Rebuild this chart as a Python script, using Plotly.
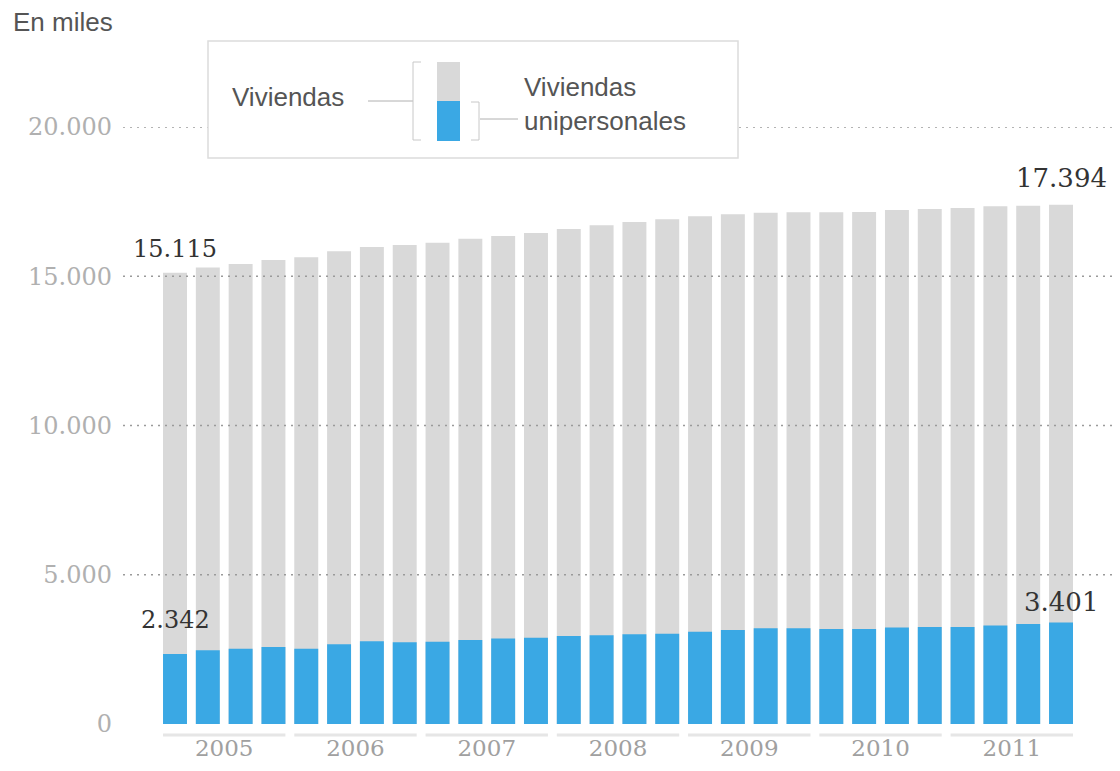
import plotly.graph_objects as go

# ---- data (thousands) ----
years = ["2005", "2006", "2007", "2008", "2009", "2010", "2011"]
quarters_per_year = 4
viviendas = [15115, 15290, 15410, 15545, 15635, 15835, 15980, 16047,
             16125, 16260, 16350, 16450, 16580, 16705, 16817, 16906,
             17007, 17074, 17130, 17140, 17140, 17150, 17218, 17252,
             17285, 17342, 17365, 17394]
unipersonales = [2342, 2467, 2521, 2578, 2521, 2668, 2769, 2735,
                 2755, 2812, 2868, 2890, 2946, 2975, 3003, 3023,
                 3090, 3147, 3204, 3204, 3180, 3180, 3237, 3247,
                 3247, 3304, 3348, 3401]
ytick_vals = [0, 5000, 10000, 15000, 20000]
ytick_text = ["0", "5.000", "10.000", "15.000", "20.000"]

GRAY = "#d9d9d9"
BLUE = "#3aa8e4"
OFF = 8  # page body margin
W, H = 1120, 771
# plot area in screen pixels: x 123..1115, y 127..724
SX0, SX1, SY0, SY1 = 123, 1115, 127, 724
L, R = SX0 - OFF, W - (SX1 - OFF)
T, B = SY0 - OFF, H - (SY1 - OFF)
PW, PH = SX1 - SX0, SY1 - SY0

def px(x):
    return (x - SX0) / PW

def py(y):
    return (SY1 - y) / PH

def fmt(v):
    return f"{v:,}".replace(",", ".")

idx = list(range(len(viviendas)))

fig = go.Figure()
fig.add_trace(go.Bar(x=idx, y=viviendas, marker=dict(color=GRAY, line=dict(width=0)),
                     name="Viviendas", hoverinfo="y"))
fig.add_trace(go.Bar(x=idx, y=unipersonales, marker=dict(color=BLUE, line=dict(width=0)),
                     name="Viviendas unipersonales", hoverinfo="y"))

shapes = []
# dotted gridlines above bars
for v in ytick_vals[1:]:
    shapes.append(dict(type="line", xref="paper", yref="y", x0=0, x1=1, y0=v, y1=v,
                       line=dict(color="#9a9a9a", width=1.6, dash="2px,5px"), layer="above"))
# year underline segments
bw = 1 - 0.27
for i, yr in enumerate(years):
    a = i * quarters_per_year - bw / 2
    b = (i + 1) * quarters_per_year - 1 + bw / 2
    shapes.append(dict(type="line", xref="x", yref="paper", x0=a, x1=b,
                       y0=py(735), y1=py(735), line=dict(color="#e6e6e6", width=3)))

# legend box (decoration)
lg = "#b0b0b0"
shapes += [
    dict(type="rect", xref="paper", yref="paper", x0=px(208), x1=px(738), y0=py(158), y1=py(41),
         fillcolor="white", line=dict(color="#dcdcdc", width=1.5), layer="above"),
    dict(type="rect", xref="paper", yref="paper", x0=px(437), x1=px(460), y0=py(101), y1=py(62),
         fillcolor=GRAY, line=dict(width=0), layer="above"),
    dict(type="rect", xref="paper", yref="paper", x0=px(437), x1=px(460), y0=py(141), y1=py(101),
         fillcolor=BLUE, line=dict(width=0), layer="above"),
    dict(type="line", xref="paper", yref="paper", x0=px(368), x1=px(413), y0=py(101), y1=py(101),
         line=dict(color=lg, width=1), layer="above"),
    dict(type="path", xref="paper", yref="paper",
         path=f"M {px(421)} {py(62)} L {px(413)} {py(62)} L {px(413)} {py(140)} L {px(421)} {py(140)}",
         line=dict(color="#c8c8c8", width=1), layer="above"),
    dict(type="path", xref="paper", yref="paper",
         path=f"M {px(471)} {py(102)} L {px(479)} {py(102)} L {px(479)} {py(140)} L {px(471)} {py(140)}",
         line=dict(color="#c8c8c8", width=1), layer="above"),
    dict(type="line", xref="paper", yref="paper", x0=px(480), x1=px(518), y0=py(119), y1=py(119),
         line=dict(color=lg, width=1), layer="above"),
]

SANS = "Liberation Sans, Arial, sans-serif"
SERIF = "DejaVu Serif, serif"
ann = [
    dict(text="En miles", xref="paper", yref="paper", x=px(11), y=py(22), xanchor="left",
         yanchor="middle", showarrow=False, font=dict(family=SANS, size=26, color="#555")),
    dict(text="Viviendas", xref="paper", yref="paper", x=px(230), y=py(97), xanchor="left",
         yanchor="middle", showarrow=False, font=dict(family=SANS, size=26, color="#555")),
    dict(text="Viviendas<br>unipersonales", xref="paper", yref="paper", x=px(522), y=py(104),
         xanchor="left", yanchor="middle", align="left", showarrow=False,
         font=dict(family=SANS, size=26, color="#555")),
]
first, last = idx[0], idx[-1]
ann += [
    dict(text=fmt(viviendas[0]), x=first, y=viviendas[0], xref="x", yref="y", yanchor="bottom",
         yshift=8, showarrow=False, font=dict(family=SERIF, size=24, color="#333")),
    dict(text=fmt(unipersonales[0]), x=first, y=unipersonales[0], xref="x", yref="y",
         yanchor="bottom", yshift=18, showarrow=False, font=dict(family=SERIF, size=24, color="#333")),
    dict(text=fmt(viviendas[-1]), x=last, y=viviendas[-1], xref="x", yref="y", yanchor="bottom",
         yshift=10, showarrow=False, font=dict(family=SERIF, size=26, color="#333")),
    dict(text=fmt(unipersonales[-1]), x=last, y=unipersonales[-1], xref="x", yref="y",
         yanchor="bottom", yshift=3, showarrow=False, font=dict(family=SERIF, size=26, color="#333")),
]

year_pos = [i * quarters_per_year + (quarters_per_year - 1) / 2 for i in range(len(years))]

fig.update_layout(
    width=W, height=H, barmode="overlay", bargap=0.27, showlegend=False,
    plot_bgcolor="white", paper_bgcolor="white",
    margin=dict(l=L, r=R, t=T, b=B),
    xaxis=dict(range=[-1.5846, 28.645], tickvals=year_pos, ticktext=years, showgrid=False,
               zeroline=False, showline=False, ticks="", ticklabelstandoff=8,
               tickfont=dict(family=SERIF, size=23, color="#a0a0a0")),
    yaxis=dict(range=[0, 20000], tickvals=ytick_vals, ticktext=ytick_text, showgrid=False,
               zeroline=False, showline=False, ticks="", ticklabelstandoff=10,
               tickfont=dict(family=SERIF, size=24, color="#b0b0b0")),
    shapes=shapes, annotations=ann,
)

fig.write_html("out.html")
